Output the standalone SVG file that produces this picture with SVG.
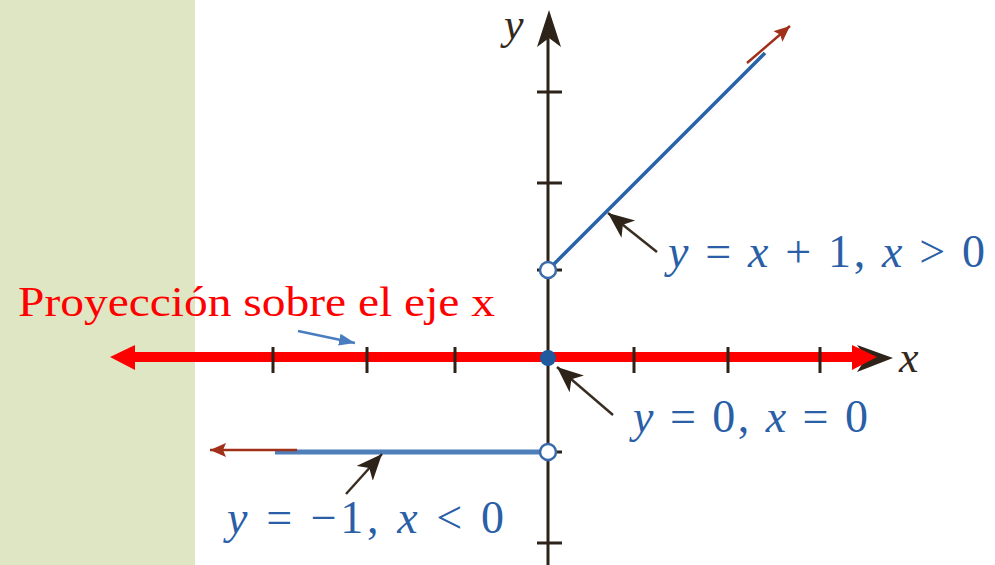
<svg xmlns="http://www.w3.org/2000/svg" width="995" height="565" viewBox="0 0 995 565">
<style>
.ax{stroke:#2e2318;stroke-width:3;fill:none}
.tk{stroke:#2e2318;stroke-width:3}
.math{font-family:"Liberation Serif","Times New Roman",serif;font-size:46px;fill:#2a5fa8}
.it{font-style:italic}
.lbl{font-family:"Liberation Serif","Times New Roman",serif;font-size:44px;font-style:italic;fill:#35281c}
.ptr{stroke:#3a2e22;stroke-width:2.5;fill:none}
.rb{stroke:#a0301a;stroke-width:2.5;fill:none}
</style>
<defs>
<marker id="mPtr" markerUnits="userSpaceOnUse" markerWidth="28" markerHeight="24" refX="26" refY="11" orient="auto">
<path d="M0,0 L26,11 L0,22 L7,11 z" fill="#2e2318"/>
</marker>
<marker id="mRb" markerUnits="userSpaceOnUse" markerWidth="18" markerHeight="16" refX="16" refY="7" orient="auto">
<path d="M0,0 L16,7 L0,14 L3,7 z" fill="#a0301a"/>
</marker>
<marker id="mBl" markerUnits="userSpaceOnUse" markerWidth="18" markerHeight="14" refX="16" refY="6" orient="auto">
<path d="M0,0 L16,6 L0,12 z" fill="#4a7cc0"/>
</marker>
</defs>
<rect id="panel" x="0" y="0" width="195" height="565" fill="#dfe6c3"/>
<g id="axes">
<line class="ax" x1="548" y1="38" x2="548" y2="565"/>
<path d="M549,10 L561,47 L549,38 L537,47 z" fill="#2e2318"/>
<line class="ax" x1="255" y1="360" x2="880" y2="360"/>
<path d="M893,358 L857,345 L866,358 L857,372 z" fill="#2e2318"/>
<g id="yticks">
<line class="tk" x1="537" y1="92" x2="562" y2="92"/>
<line class="tk" x1="537" y1="183" x2="562" y2="183"/>
<line class="tk" x1="537" y1="270" x2="562" y2="270"/>
<line class="tk" x1="537" y1="452" x2="562" y2="452"/>
<line class="tk" x1="537" y1="543" x2="562" y2="543"/>
</g>
<text class="lbl" x="504" y="39">y</text>
<text class="lbl" x="899" y="372">x</text>
</g>
<g id="projection">
<line x1="130" y1="357" x2="860" y2="357" stroke="#ff0000" stroke-width="10"/>
<polygon points="110,357 135,345 135,370" fill="#ff0000"/>
<polygon points="877,357 852,345 852,370" fill="#ff0000"/>
<g id="xticks">
<line class="tk" x1="273" y1="347" x2="273" y2="373"/>
<line class="tk" x1="367" y1="347" x2="367" y2="373"/>
<line class="tk" x1="455" y1="347" x2="455" y2="373"/>
<line class="tk" x1="634" y1="347" x2="634" y2="373"/>
<line class="tk" x1="728" y1="347" x2="728" y2="373"/>
<line class="tk" x1="820" y1="347" x2="820" y2="373"/>
</g>
</g>
<g id="branch-pos">
<line x1="553" y1="265" x2="765" y2="53" stroke="#2a62aa" stroke-width="3.5"/>
<line class="rb" x1="747" y1="63" x2="790" y2="26" marker-end="url(#mRb)"/>
<circle cx="548" cy="270" r="8" fill="#ffffff" stroke="#3a6aaa" stroke-width="2.5"/>
</g>
<g id="branch-zero">
<circle cx="548" cy="358" r="8" fill="#1f5a9e"/>
</g>
<g id="branch-neg">
<line x1="275" y1="452" x2="540" y2="452" stroke="#4e7fb8" stroke-width="5"/>
<line class="rb" x1="297" y1="450" x2="210" y2="450" marker-end="url(#mRb)"/>
<circle cx="548" cy="452" r="8" fill="#ffffff" stroke="#3a6aaa" stroke-width="2.5"/>
</g>
<g id="connectors">
<line class="ptr" x1="657" y1="252" x2="608" y2="213" marker-end="url(#mPtr)"/>
<line class="ptr" x1="613" y1="415" x2="557" y2="367" marker-end="url(#mPtr)"/>
<line class="ptr" x1="346" y1="494" x2="382" y2="454" marker-end="url(#mPtr)"/>
<line x1="298" y1="331" x2="355" y2="343" stroke="#4a7cc0" stroke-width="2.5" marker-end="url(#mBl)"/>
</g>
<g id="label-pos">
<text class="math" x="668" y="267" textLength="317" lengthAdjust="spacing"><tspan class="it">y</tspan> = <tspan class="it">x</tspan> + 1, <tspan class="it">x</tspan> &gt; 0</text>
</g>
<g id="label-zero">
<text class="math" x="633" y="432" textLength="235" lengthAdjust="spacing"><tspan class="it">y</tspan> = 0, <tspan class="it">x</tspan> = 0</text>
</g>
<g id="label-neg">
<text class="math" x="227" y="533" textLength="277" lengthAdjust="spacing"><tspan class="it">y</tspan> = −1, <tspan class="it">x</tspan> &lt; 0</text>
</g>
<g id="label-proj">
<text x="18" y="316" font-family="'Liberation Serif','Times New Roman',serif" font-size="42" fill="#ff0000" textLength="477" lengthAdjust="spacingAndGlyphs">Proyección sobre el eje x</text>
</g>
</svg>
